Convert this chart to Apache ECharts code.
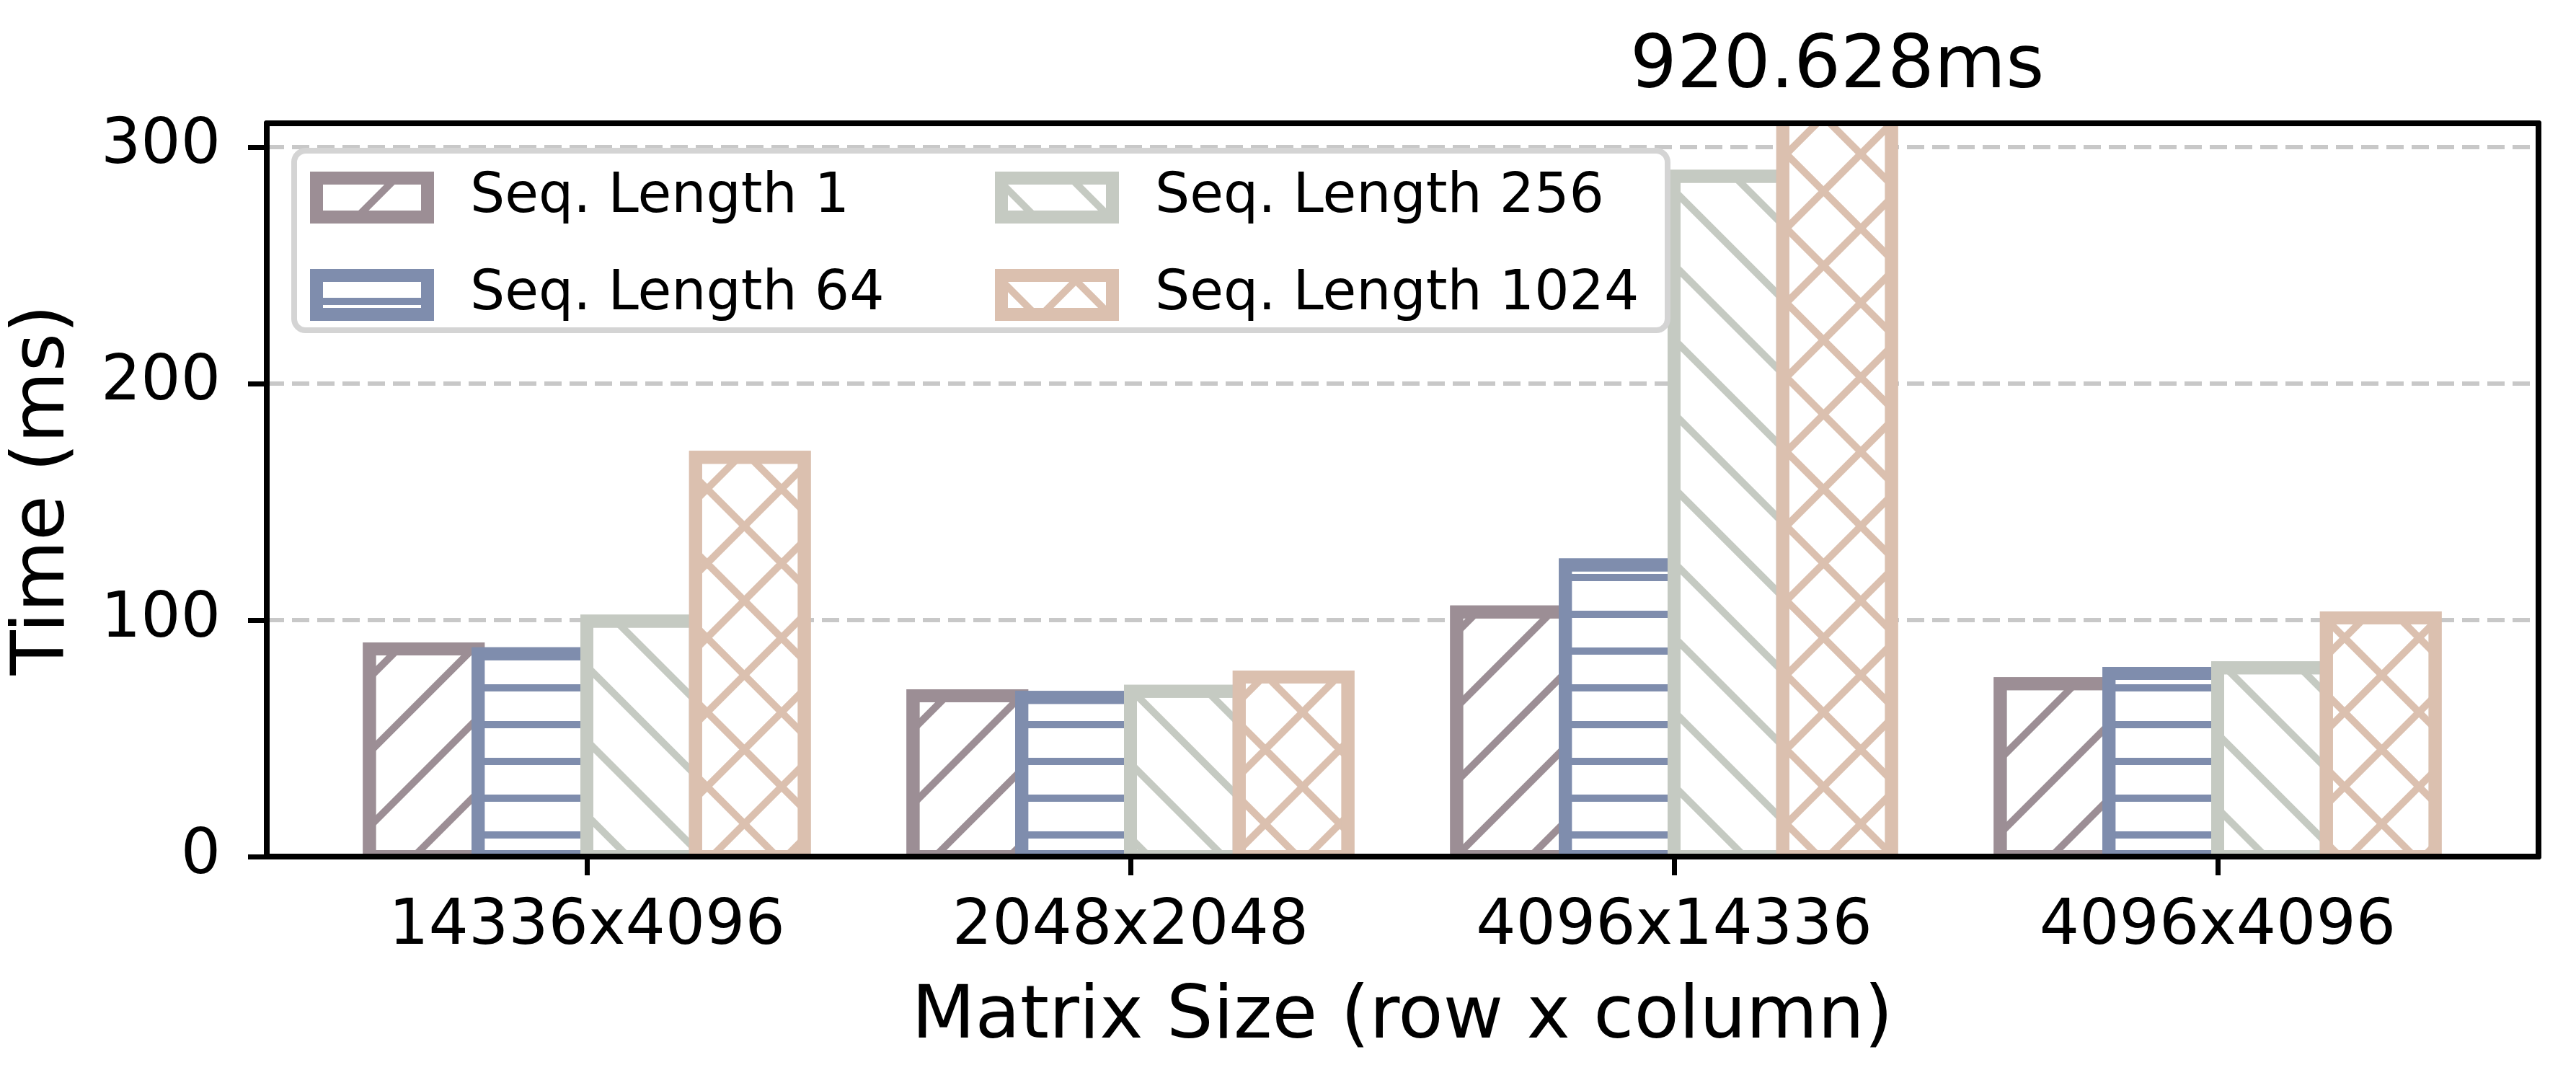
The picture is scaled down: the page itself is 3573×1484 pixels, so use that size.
<!DOCTYPE html>
<html>
<head>
<meta charset="utf-8" />
<script src="https://cdn.jsdelivr.net/npm/echarts@6/dist/echarts.min.js"></script>
<style>
    html, body, #main { margin: 0; width: 100%; height: 100%; background: #fff; }
</style>
</head>
<body>
<div id="main"></div>
<script>
// data
var categories = ["14336x4096", "2048x2048", "4096x14336", "4096x4096"];
var seqNames = ["Seq. Length 1", "Seq. Length 64", "Seq. Length 256", "Seq. Length 1024"];
var seq1 = [87.8, 68.0, 103.4, 73.1];
var seq64 = [85.7, 67.3, 123.3, 77.4];
var seq256 = [99.5, 69.9, 287.6, 79.8];
var seq1024 = [168.8, 75.9, 920.628, 100.9];
var yTicks = [0, 100, 200, 300];
var yMax = 310;

var colors = ["#9c8e95", "#7f8dad", "#c5cac2", "#dbc0af"];
var hatches = ["/", "-", "\\", "x"];
var font = "DejaVu Sans";

// plot frame (px)
var plotLeft = 370, plotRight = 3521, plotTop = 171, plotBottom = 1188;
var barsLeft = 437, barsRight = 3453;
var barFrac = 0.2;     // bar width as part of a category band
var edgeWidth = 18;

function hatchDecal(kind, color) {
    var d = { symbol: "rect", symbolSize: 1, symbolKeepAspect: false, color: color };
    if (kind === "-") {
        d.dashArrayX = [73, 0];
        d.dashArrayY = [0, 31, 10, 10];
        d.rotation = 0;
    } else if (kind === "x") {
        d.dashArrayX = [[73, 0], [10, 63]];
        d.dashArrayY = [10, 0, 63, 0];
        d.rotation = Math.PI / 4;
    } else {
        d.dashArrayX = [73, 0];
        d.dashArrayY = [10, 63];
        d.rotation = kind === "/" ? -Math.PI / 4 : Math.PI / 4;
    }
    return d;
}

var seriesValues = [seq1, seq64, seq256, seq1024];
var nSeries = seriesValues.length;

function barItem(k) {
    return function (params, api) {
        var ci = api.value(0), v = api.value(1);
        var base = api.coord([ci, 0]);
        var top = api.coord([ci, v]);
        var w = api.size([1, 1])[0] * barFrac;
        var cx = base[0] + (k - (nSeries - 1) / 2) * w;
        return {
            type: "rect",
            shape: { x: cx - w / 2, y: top[1], width: w, height: base[1] - top[1] },
            style: {
                fill: "#ffffff",
                stroke: colors[k],
                lineWidth: edgeWidth,
                decal: hatchDecal(hatches[k], colors[k])
            }
        };
    };
}

// value written above a bar that runs off the top of the axis
function overflowText(k) {
    return function (params, api) {
        var ci = api.value(0), v = api.value(1);
        if (v <= yMax) return null;
        var base = api.coord([ci, 0]);
        var top = api.coord([ci, yMax]);
        var w = api.size([1, 1])[0] * barFrac;
        var cx = base[0] + (k - (nSeries - 1) / 2) * w;
        return {
            type: "text",
            x: cx,
            y: top[1] - 26,
            style: {
                text: v + "ms",
                fill: "#000",
                font: "102px " + font,
                textAlign: "center",
                textVerticalAlign: "bottom"
            }
        };
    };
}

var series = [];
seriesValues.forEach(function (vals, k) {
    var pts = vals.map(function (v, j) { return [j, v]; });
    series.push({
        name: seqNames[k],
        type: "custom",
        xAxisIndex: 2,
        yAxisIndex: 3,
        clip: true,
        z: 2,
        silent: true,
        renderItem: barItem(k),
        encode: { x: 0, y: 1 },
        itemStyle: {
            color: "#ffffff",
            borderColor: colors[k],
            borderWidth: edgeWidth,
            decal: hatchDecal(hatches[k], colors[k])
        },
        data: pts
    });
    series.push({
        name: seqNames[k] + " note",
        type: "custom",
        xAxisIndex: 2,
        yAxisIndex: 3,
        clip: false,
        z: 5,
        silent: true,
        renderItem: overflowText(k),
        encode: { x: 0, y: 1 },
        data: pts
    });
});

var frameLine = { show: true, onZero: false, lineStyle: { color: "#000", width: 8 } };

function legendBlock(names, left) {
    return {
        data: names,
        orient: "vertical",
        left: left,
        top: 236,
        padding: 0,
        itemGap: 59,
        itemWidth: 154,
        itemHeight: 54,
        icon: "rect",
        z: 20,
        selectedMode: false,
        itemStyle: { borderWidth: edgeWidth },
        textStyle: {
            color: "#000",
            fontFamily: font,
            fontSize: 76,
            lineHeight: 54,
            padding: [0, 0, 0, 54]
        }
    };
}

var chart = echarts.init(document.getElementById("main"), null, { renderer: "canvas" });
var W = chart.getWidth(), H = chart.getHeight();

chart.setOption({
    animation: false,
    backgroundColor: "#ffffff",
    grid: [
        { left: plotLeft, right: W - plotRight, top: plotTop, bottom: H - plotBottom },
        { left: barsLeft, right: W - barsRight, top: plotTop, bottom: H - plotBottom }
    ],
    legend: [
        legendBlock([seqNames[0], seqNames[1]], 430),
        legendBlock([seqNames[2], seqNames[3]], 1380)
    ],
    graphic: [
        { // legend frame
            type: "rect", z: 15, silent: true,
            shape: { x: 408, y: 209, width: 1905, height: 249, r: 16 },
            style: { fill: "rgba(255,255,255,0.8)", stroke: "#d4d4d4", lineWidth: 8 }
        }
    ],
    xAxis: [
        { gridIndex: 0, type: "value", min: 0, max: 1, position: "bottom", z: 10,
          axisLine: frameLine, axisTick: { show: false }, axisLabel: { show: false }, splitLine: { show: false } },
        { gridIndex: 0, type: "value", min: 0, max: 1, position: "top", z: 10,
          axisLine: frameLine, axisTick: { show: false }, axisLabel: { show: false }, splitLine: { show: false } },
        { gridIndex: 1, type: "category", data: categories, position: "bottom", z: 10,
          axisLine: { show: false, onZero: false },
          axisTick: { show: true, alignWithLabel: true, length: 26, lineStyle: { color: "#000", width: 7 } },
          axisLabel: { color: "#000", fontFamily: font, fontSize: 87, margin: 55 },
          splitLine: { show: false },
          name: "Matrix Size (row x column)",
          nameLocation: "middle",
          nameGap: 173,
          nameTextStyle: { color: "#000", fontFamily: font, fontSize: 102 } }
    ],
    yAxis: [
        { gridIndex: 0, type: "value", min: 0, max: yMax, interval: 100, position: "left", z: 10,
          axisLine: frameLine,
          axisTick: { show: true, length: 26, customValues: yTicks, lineStyle: { color: "#000", width: 7 } },
          axisLabel: { color: "#000", fontFamily: font, fontSize: 87, margin: 64, customValues: yTicks },
          splitLine: { show: false },
          name: "Time (ms)",
          nameLocation: "middle",
          nameGap: 258,
          nameTextStyle: { color: "#000", fontFamily: font, fontSize: 102 } },
        { gridIndex: 0, type: "value", min: 0, max: yMax, interval: 100, position: "left", z: 0,
          axisLine: { show: false, onZero: false }, axisTick: { show: false }, axisLabel: { show: false },
          splitLine: { show: true, lineStyle: { color: "#c8c8c8", width: 6, type: [24, 11] } } },
        { gridIndex: 0, type: "value", min: 0, max: yMax, interval: 100, position: "right", z: 10,
          axisLine: frameLine, axisTick: { show: false }, axisLabel: { show: false }, splitLine: { show: false } },
        { gridIndex: 1, type: "value", min: 0, max: yMax, show: false }
    ],
    series: series
});
</script>
</body>
</html>
